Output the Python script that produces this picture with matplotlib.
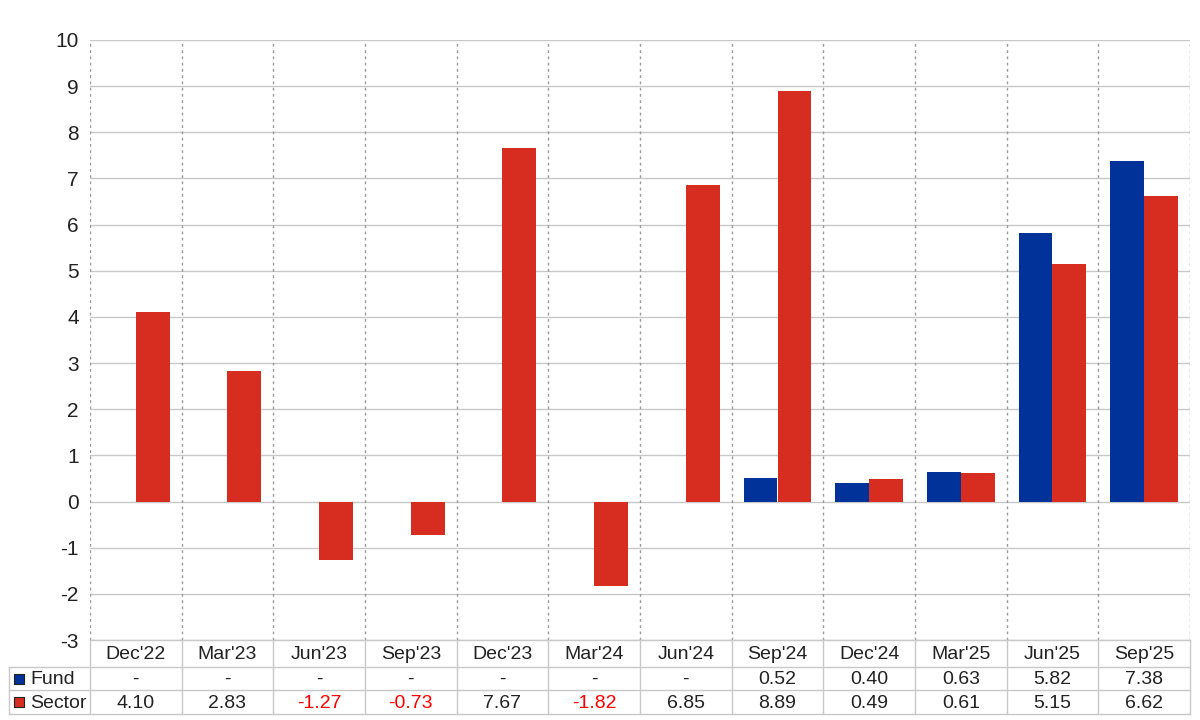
import numpy as np
import matplotlib
matplotlib.use("Agg")
import matplotlib.pyplot as plt

plt.rcParams['font.family'] = ['Liberation Sans', 'DejaVu Sans']

categories = ["Dec'22", "Mar'23", "Jun'23", "Sep'23", "Dec'23", "Mar'24",
              "Jun'24", "Sep'24", "Dec'24", "Mar'25", "Jun'25", "Sep'25"]
fund = [np.nan, np.nan, np.nan, np.nan, np.nan, np.nan, np.nan,
        0.52, 0.40, 0.63, 5.82, 7.38]
sector = [4.10, 2.83, -1.27, -0.73, 7.67, -1.82, 6.85, 8.89, 0.49, 0.61, 5.15, 6.62]
series_names = ["Fund", "Sector"]
colors = ["#003299", "#d62d20"]
yticks = list(range(-3, 11))

fig = plt.figure(figsize=(12, 7.2), dpi=100)
ax = fig.add_axes([90/1200, 1-640/720, 1100/1200, 600/720])

n = len(categories)
x = np.arange(n)
w = 0.37
ax.bar(x - w/2, fund, width=w, color=colors[0], zorder=3)
ax.bar(x + w/2, sector, width=w, color=colors[1], zorder=3)

ax.set_xlim(-0.5, n - 0.5)
ax.set_ylim(-3, 10)
ax.set_yticks(yticks)
ax.set_yticklabels([str(t) for t in yticks], fontsize=15, color='#222222')
ax.tick_params(axis='y', length=0, pad=8)
ax.set_xticks([])
for s in ax.spines.values():
    s.set_visible(False)
for t in yticks:
    ax.axhline(t, color='#c8c8c8', lw=1, zorder=1)
for b in np.arange(-0.5, n, 1.0):
    ax.axvline(b, color='#999999', lw=1, ls=(0, (2, 2.5)), zorder=1)

# table
tax = fig.add_axes([90/1200, 1-714/720, 1100/1200, 74/720])
tax.set_xlim(-0.5, n - 0.5)
tax.set_ylim(74, 0)
tax.axis('off')
row_y = [0, 27, 50, 74]
grid_c = '#c8c8c8'
unit = 1100 / 12
left = -0.5 - 81 / unit
tax.plot([-0.5, n - 0.5], [row_y[0], row_y[0]], color=grid_c, lw=1, clip_on=False)
for ry in row_y[1:]:
    tax.plot([left, n - 0.5], [ry, ry], color=grid_c, lw=1, clip_on=False)
for b in np.arange(-0.5, n, 1.0):
    tax.plot([b, b], [row_y[0], row_y[3]], color=grid_c, lw=1, clip_on=False)
tax.plot([left, left], [row_y[1], row_y[3]], color=grid_c, lw=1, clip_on=False)

for i, c in enumerate(categories):
    tax.text(i, (row_y[0] + row_y[1]) / 2 + 1, c, ha='center', va='center',
             fontsize=14, color='#222222')
for r, (name, vals, col) in enumerate(zip(series_names, [fund, sector], colors)):
    yc = (row_y[r + 1] + row_y[r + 2]) / 2 + 1
    tax.text(left + 21 / unit, yc, name, ha='left', va='center', fontsize=14,
             color='#222222', clip_on=False)
    tax.scatter([left + 10 / unit], [yc - 1], marker='s', s=45, color=col,
                edgecolor='#222222', linewidth=0.8, clip_on=False, zorder=5)
    for i, v in enumerate(vals):
        if np.isnan(v):
            txt, tc = '-', '#222222'
        else:
            txt = f"{v:.2f}"
            tc = '#ff0000' if v < 0 else '#222222'
        tax.text(i, yc, txt, ha='center', va='center', fontsize=14, color=tc)

fig.savefig('out.png', dpi=100)
